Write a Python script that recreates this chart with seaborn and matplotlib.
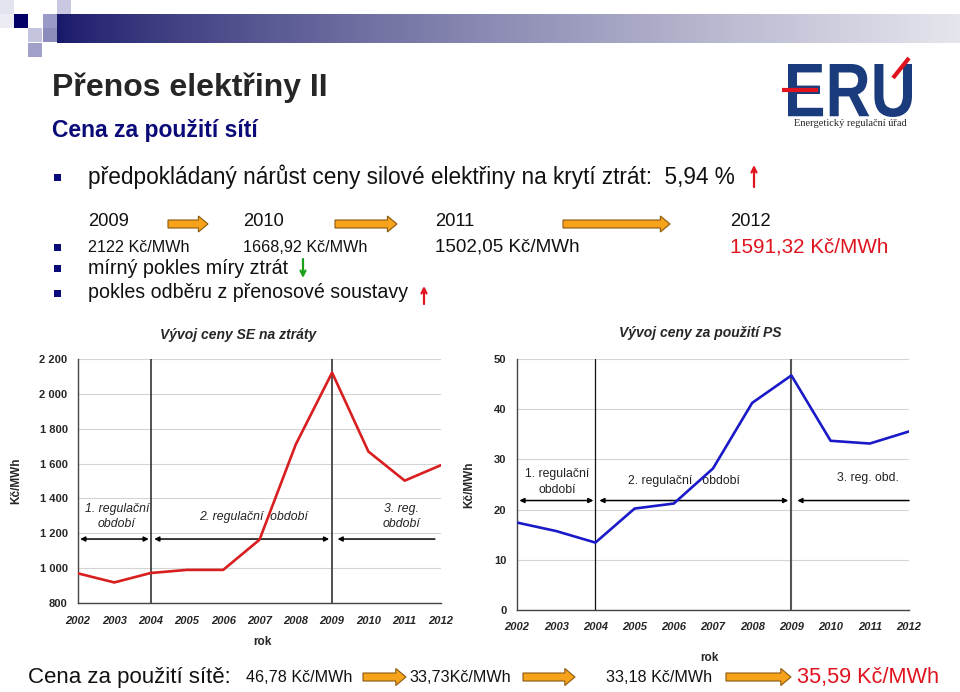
import numpy as np
import pandas as pd
import matplotlib
matplotlib.use("Agg")
import matplotlib.pyplot as plt
import matplotlib.patches as mpatches
from matplotlib.textpath import TextPath
from matplotlib.font_manager import FontProperties
from matplotlib.transforms import Affine2D
from matplotlib.ticker import FuncFormatter
import seaborn as sns

# data
years = list(range(2002, 2013))
se_price = [970, 918, 972, 990, 990, 1163, 1710, 2122, 1669, 1502, 1591]
ps_price = [17.4, 15.7, 13.4, 20.2, 21.2, 28.2, 41.3, 46.78, 33.73, 33.18, 35.59]
period_edges = [2002, 2004, 2009, 2012]
se_periods = ["1. regulační\nobdobí", "2. regulační  období", "3. reg.\nobdobí"]
ps_periods = ["1. regulační\nobdobí", "2. regulační   období", "3. reg. obd."]

loss_years = ["2009", "2010", "2011", "2012"]
loss_prices = ["2122 Kč/MWh", "1668,92 Kč/MWh", "1502,05 Kč/MWh", "1591,32 Kč/MWh"]
net_prices = ["46,78 Kč/MWh", "33,73Kč/MWh", "33,18 Kč/MWh", "35,59 Kč/MWh"]

sns.set_style("white")
plt.rcParams["font.family"] = ["Liberation Sans", "DejaVu Sans"]

NAVY = "#0a0a78"
RED = "#e0141e"
ORANGE = "#f7a21b"
INK = "#111111"

fig = plt.figure(figsize=(9.6, 6.92), dpi=100)

# overlay in pixel coordinates for the slide decoration
ov = fig.add_axes([0, 0, 1, 1])
ov.set_xlim(0, 960)
ov.set_ylim(692, 0)
ov.axis("off")
ov.patch.set_alpha(0)

# gradient header bar
grad = np.linspace(0, 1, 256)
c0 = np.array([0.10, 0.10, 0.42])
c1 = np.array([0.90, 0.90, 0.93])
bar = c0[None, :] * (1 - grad[:, None] ** 0.8) + c1[None, :] * grad[:, None] ** 0.8
ov.imshow(bar[None, :, :], extent=[57, 960, 43, 14], aspect="auto", zorder=1)
squares = [
    (0, 0, "#e4e4f0"), (0, 14, "#ececf4"), (14, 14, "#000066"),
    (57, 0, "#c8c8e2"), (43, 14, "#9a9ac8"), (28, 28, "#c4c4de"),
    (43, 28, "#8c8cbc"), (28, 43, "#a0a0c8"),
]
for sx, sy, col in squares:
    ov.add_patch(mpatches.Rectangle((sx, sy), 14, 14, color=col, lw=0, zorder=2))

# title
ov.text(52, 88, "Přenos elektřiny II", fontsize=23, fontweight="bold", va="center")
ov.text(52, 130, "Cena za použití sítí", fontsize=16.5, fontweight="bold",
        color=NAVY, va="center")

# logo
fp = FontProperties(family="Liberation Sans", weight="bold")
tp = TextPath((0, 0), "ERU", size=100, prop=fp)
ext = tp.get_extents()
sx = (912 - 788) / ext.width
sy = (117 - 64) / ext.height
tr = Affine2D().translate(-ext.x0, -ext.y0).scale(sx, -sy).translate(788, 117)
ov.add_patch(mpatches.PathPatch(tr.transform_path(tp), color="#1b3c7c", lw=0, zorder=3))
ov.plot([782, 818], [90, 90], color=RED, lw=3, zorder=4, solid_capstyle="butt")
ov.plot([893, 909], [78, 58], color=RED, lw=3, zorder=4, solid_capstyle="butt")
ov.text(850, 124, "Energetický regulační úřad", family="Liberation Serif",
        fontsize=7.5, ha="center", va="center")


def bullet(y):
    ov.add_patch(mpatches.Rectangle((54, y - 3.5), 7, 7, color=NAVY, lw=0))


def thin_arrow(x, y0, y1, col):
    ov.annotate("", xy=(x, y1), xytext=(x, y0),
                arrowprops=dict(arrowstyle="->", color=col, lw=1.6,
                                shrinkA=0, shrinkB=0, mutation_scale=9))


def block_arrow(x0, x1, y, body, head):
    ov.add_patch(mpatches.FancyArrow(x0, y, x1 - x0, 0, width=body,
                                     head_width=head, head_length=head * 0.6,
                                     length_includes_head=True, fc=ORANGE,
                                     ec="#8a5a10", lw=0.8, zorder=3))


bullet(177)
ov.text(88, 177, "předpokládaný nárůst ceny silové elektřiny na krytí ztrát:  5,94 %",
        fontsize=16.3, color=INK, va="center")
thin_arrow(754, 187, 165, RED)

xs = [88, 243, 435, 730]
price_sizes = [11.6, 11.6, 13.6, 14.9]
for i, (yr, pr) in enumerate(zip(loss_years, loss_prices)):
    ov.text(xs[i], 222, yr, fontsize=13.2, color=INK, va="center")
    ov.text(xs[i], 247, pr, fontsize=price_sizes[i], va="center",
            color=RED if i == 3 else INK)
for a0, a1 in [(168, 208), (335, 397), (563, 670)]:
    block_arrow(a0, a1, 224, 8, 16)
bullet(247)
bullet(268)
ov.text(88, 268, "mírný pokles míry ztrát", fontsize=14.2, color=INK, va="center")
thin_arrow(303, 259, 278, "#1aa01a")
bullet(293)
ov.text(88, 293, "pokles odběru z přenosové soustavy", fontsize=14.1,
        color=INK, va="center")
thin_arrow(424, 304, 286, RED)

# bottom line
ov.text(28, 677, "Cena za použití sítě:", fontsize=16, color=INK, va="center")
bx = [246, 409, 606, 797]
for i, pr in enumerate(net_prices):
    ov.text(bx[i], 677, pr, fontsize=15.7 if i == 3 else 11.6,
            va="center", color=RED if i == 3 else INK)
for a0, a1 in [(363, 406), (523, 575), (726, 791)]:
    block_arrow(a0, a1, 677, 8, 17)


def chart(rect, values, color, ylim, yticks, periods, label_pos, arrow_y,
          title, title_xy, ylab_x, rok_xy, italic_notes, last_arrow, fmt, vstyles):
    ax = fig.add_axes(rect)
    ax.set_facecolor("none")
    df = pd.DataFrame({"rok": years, "cena": values})
    sns.lineplot(data=df, x="rok", y="cena", ax=ax, color=color, linewidth=1.9,
                 zorder=4)
    ax.set_xlim(years[0], years[-1])
    ax.set_ylim(*ylim)
    ax.set_yticks(yticks)
    ax.set_xticks(years)
    ax.yaxis.set_major_formatter(FuncFormatter(fmt))
    ax.yaxis.grid(True, color="#d4d4d4", lw=0.8)
    ax.set_axisbelow(True)
    for s in ["top", "right"]:
        ax.spines[s].set_visible(False)
    for s in ["left", "bottom"]:
        ax.spines[s].set_color("#444444")
        ax.spines[s].set_linewidth(1.0)
    ax.tick_params(axis="both", length=4, width=1, color="#444444", direction="out")
    ax.tick_params(axis="x", pad=5)
    for t in ax.get_yticklabels():
        t.set_fontweight("bold")
        t.set_fontsize(8)
    for t in ax.get_xticklabels():
        t.set_fontweight("bold")
        t.set_fontstyle("italic")
        t.set_fontsize(8)
    ax.set_ylabel("Kč/MWh", fontsize=8.5, fontweight="bold")
    ax.yaxis.set_label_coords(ylab_x, 0.5)
    ax.set_xlabel("rok", fontsize=8.5, fontweight="bold")
    ax.xaxis.set_label_coords(*rok_xy)
    ax.text(title_xy[0], title_xy[1], title, transform=ax.transAxes,
            fontsize=10, fontweight="bold", fontstyle="italic",
            ha="center", va="center")
    for e, (vc, vw) in zip(period_edges[1:-1], vstyles):
        ax.axvline(e, color=vc, lw=vw, zorder=3)
    ap = dict(color="black", lw=1.1, shrinkA=0, shrinkB=0, mutation_scale=7)
    ax.annotate("", xy=(period_edges[1] - 0.05, arrow_y),
                xytext=(period_edges[0] + 0.06, arrow_y),
                arrowprops=dict(arrowstyle="<|-|>", **ap))
    ax.annotate("", xy=(period_edges[2] - 0.08, arrow_y),
                xytext=(period_edges[1] + 0.1, arrow_y),
                arrowprops=dict(arrowstyle="<|-|>", **ap))
    ax.annotate("", xy=(period_edges[2] + 0.15, arrow_y),
                xytext=(last_arrow, arrow_y),
                arrowprops=dict(arrowstyle="-|>", **ap))
    for lab, (lx, ly) in zip(periods, label_pos):
        ax.text(lx, ly, lab, fontsize=8.8, ha="center", va="center",
                fontstyle="italic" if italic_notes else "normal",
                color="#222222", linespacing=1.35)
    return ax


W, H = 960, 692
chart([78 / W, (H - 603) / H, 363 / W, 244 / H], se_price, "#d81e1e",
      (800, 2200), list(range(800, 2201, 200)), se_periods,
      [(2003.07, 1296), (2006.83, 1293), (2010.9, 1296)], 1167,
      "Vývoj ceny SE na ztráty", (0.44, 1.098), -0.154, (0.507, -0.135), True,
      2011.83, lambda v, p: f"{int(v):,}".replace(",", " "),
      [("#333333", 1.2), ("#444444", 1.3)])
chart([517 / W, (H - 609.7) / H, 392 / W, 250.4 / H], ps_price, "#1a1ac8",
      (0, 50), list(range(0, 51, 10)), ps_periods,
      [(2003.03, 25.5), (2006.25, 25.6), (2010.95, 26.3)], 21.8,
      "Vývoj ceny za použití PS", (0.467, 1.105), -0.107, (0.49, -0.169), False,
      2012.0, lambda v, p: f"{int(v)}",
      [("#111111", 0.9), ("#555555", 1.5)])

fig.savefig("out.png", dpi=100)
